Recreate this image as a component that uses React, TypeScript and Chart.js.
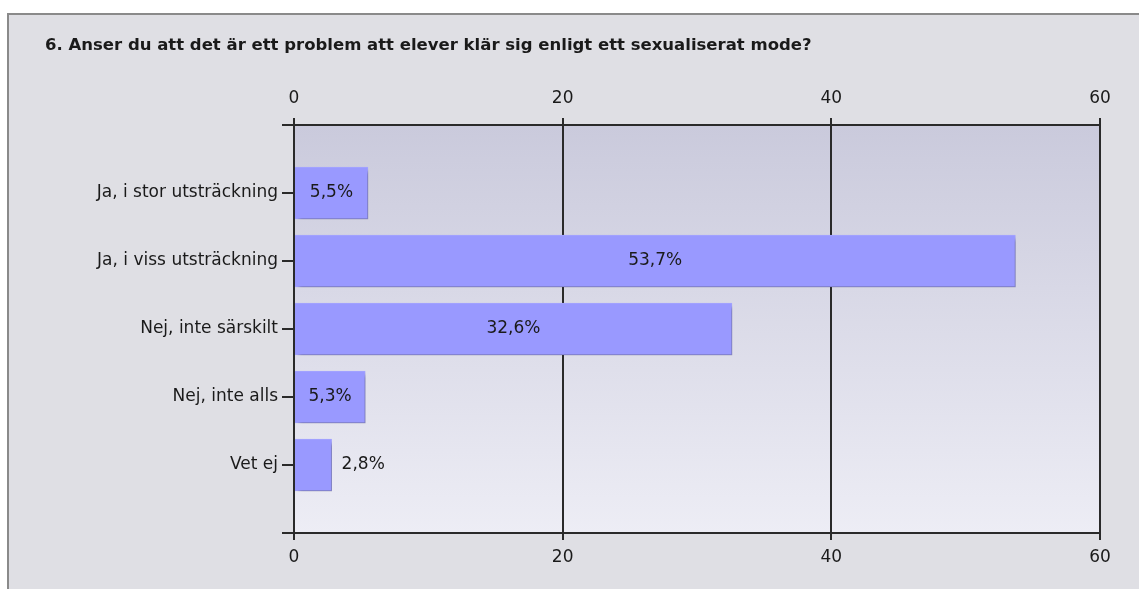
import React, { useEffect, useRef } from 'react';
import { Chart, registerables } from 'chart.js';

Chart.register(...registerables);

const titleText = '6. Anser du att det är ett problem att elever klär sig enligt ett sexualiserat mode?';
const categories = [
  'Ja, i stor utsträckning',
  'Ja, i viss utsträckning',
  'Nej, inte särskilt',
  'Nej, inte alls',
  'Vet ej',
];
const values = [5.5, 53.7, 32.6, 5.3, 2.8];
const axisMin = 0;
const axisMax = 60;
const axisStep = 20;

const FONT = "'DejaVu Sans', sans-serif";
const TEXT = '#1a1a1a';
const LINE = '#2a2a2a';

const fmt = (v: number) => v.toFixed(1).replace('.', ',') + '%';

const bgPlugin = {
  id: 'plotBg',
  beforeDraw(chart: any) {
    const { ctx, chartArea } = chart;
    if (!chartArea) return;
    const g = ctx.createLinearGradient(0, chartArea.top, 0, chartArea.bottom);
    g.addColorStop(0, '#cacadc');
    g.addColorStop(1, '#ededf5');
    ctx.save();
    ctx.fillStyle = g;
    ctx.fillRect(chartArea.left, chartArea.top, chartArea.right - chartArea.left, chartArea.bottom - chartArea.top);
    ctx.restore();
  },
};

const barDecor = {
  id: 'barDecor',
  beforeDatasetsDraw(chart: any) {
    const ctx = chart.ctx;
    ctx.save();
    ctx.shadowColor = 'rgba(0,0,0,0.25)';
    ctx.shadowBlur = 4;
    ctx.shadowOffsetX = 4;
    ctx.shadowOffsetY = 4;
  },
  afterDatasetsDraw(chart: any) {
    const ctx = chart.ctx;
    ctx.restore();
    const meta = chart.getDatasetMeta(0);
    const data = chart.data.datasets[0].data;
    ctx.save();
    ctx.font = `17px ${FONT}`;
    ctx.fillStyle = TEXT;
    ctx.textBaseline = 'middle';
    meta.data.forEach((bar: any, i: number) => {
      const v = data[i];
      if (v == null) return;
      const label = fmt(v);
      const w = ctx.measureText(label).width;
      const left = bar.base;
      const right = bar.x;
      if (right - left > w + 16) {
        ctx.textAlign = 'center';
        ctx.fillText(label, (left + right) / 2, bar.y);
      } else {
        ctx.textAlign = 'left';
        ctx.fillText(label, right + 10, bar.y);
      }
    });
    ctx.restore();
  },
};

export default function App() {
  const ref = useRef<HTMLCanvasElement>(null);

  useEffect(() => {
    if (!ref.current) return;
    const labels = ['', ...categories, ''];
    const data = [null, ...values, null];
    const chart = new Chart(ref.current, {
      type: 'bar',
      data: {
        labels,
        datasets: [
          {
            data: data as any,
            backgroundColor: '#9999ff',
            borderColor: '#a4a4ff',
            borderWidth: 1,
            barThickness: 52,
            xAxisID: 'x',
            yAxisID: 'y',
          },
        ],
      },
      options: {
        indexAxis: 'y',
        animation: false,
        responsive: false,
        maintainAspectRatio: false,
        layout: { padding: { top: 0, left: 0, right: 39, bottom: 0 } },
        plugins: {
          legend: { display: false },
          title: { display: false },
          tooltip: { enabled: false },
        },
        scales: {
          x: {
            type: 'linear',
            position: 'bottom',
            min: axisMin,
            max: axisMax,
            afterFit: (s: any) => { s.height = 56; },
            ticks: { stepSize: axisStep, color: TEXT, font: { family: FONT, size: 17 }, padding: 7 },
            grid: { color: LINE, lineWidth: 2, tickLength: 7, tickColor: LINE, drawOnChartArea: true },
            border: { display: true, color: LINE, width: 2 },
          },
          x2: {
            type: 'linear',
            position: 'top',
            min: axisMin,
            max: axisMax,
            afterFit: (s: any) => { s.height = 125; },
            ticks: { stepSize: axisStep, color: TEXT, font: { family: FONT, size: 17 }, padding: 9 },
            grid: { color: LINE, lineWidth: 2, tickLength: 7, tickColor: LINE, drawOnChartArea: false },
            border: { display: true, color: LINE, width: 2 },
          },
          y: {
            type: 'category',
            offset: false,
            afterFit: (s: any) => { s.width = 294; },
            ticks: { color: TEXT, font: { family: FONT, size: 17 }, padding: 4, autoSkip: false },
            grid: { offset: false, color: LINE, lineWidth: 2, tickLength: 12, tickColor: LINE, drawOnChartArea: false },
            border: { display: true, color: LINE, width: 2 },
          },
        },
      } as any,
      plugins: [bgPlugin, barDecor],
    });
    return () => chart.destroy();
  }, []);

  return (
    <div>
      <div
        style={{
          position: 'fixed',
          left: 7,
          top: 13,
          width: 1134,
          height: 600,
          background: '#dfdfe4',
          borderLeft: '2px solid #8a8a8a',
          borderTop: '2px solid #8a8a8a',
          boxSizing: 'border-box',
        }}
      />
      <canvas
        ref={ref}
        width={1139}
        height={589}
        style={{ position: 'fixed', left: 0, top: 0, width: 1139, height: 589, display: 'block' }}
      />
      <div
        style={{
          position: 'fixed',
          left: 45,
          top: 37,
          fontFamily: FONT,
          fontWeight: 'bold',
          fontSize: '16.5px',
          lineHeight: '16.5px',
          color: TEXT,
          whiteSpace: 'nowrap',
        }}
      >
        {titleText}
      </div>
    </div>
  );
}
